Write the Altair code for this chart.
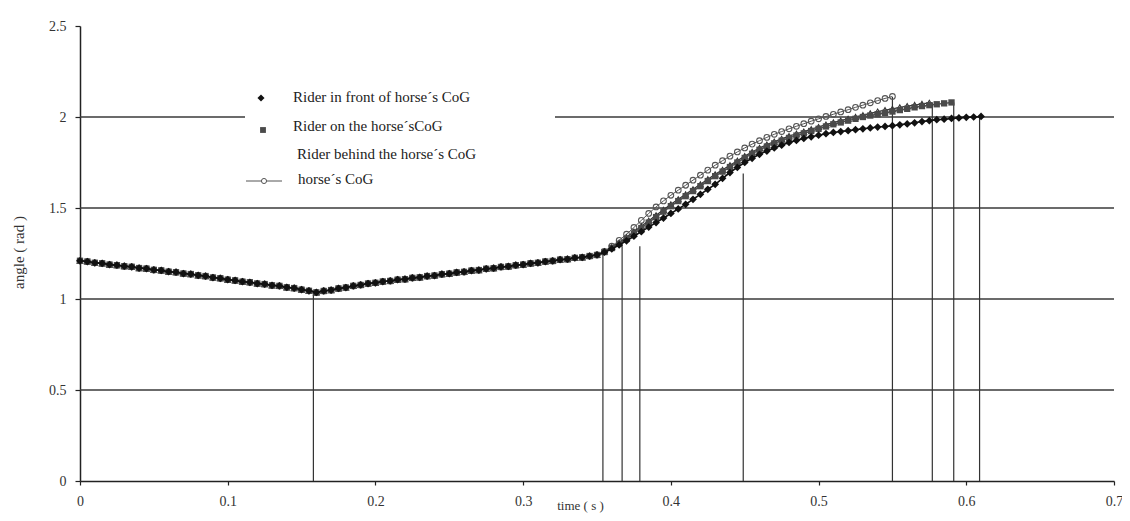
import altair as alt
import pandas as pd

# ---------------- data ----------------
T_STEP = 0.005
# approach phase, identical for all four conditions, t = 0 .. 0.35 s
common_v = [1.210, 1.206, 1.199, 1.196, 1.189, 1.186, 1.180, 1.177, 1.170, 1.167,
            1.160, 1.157, 1.150, 1.147, 1.140, 1.137, 1.130, 1.126, 1.118, 1.114,
            1.106, 1.102, 1.095, 1.092, 1.085, 1.082, 1.075, 1.072, 1.064, 1.060,
            1.051, 1.045, 1.036, 1.044, 1.049, 1.058, 1.063, 1.072, 1.077, 1.085,
            1.089, 1.096, 1.099, 1.106, 1.109, 1.116, 1.119, 1.126, 1.129, 1.136,
            1.139, 1.146, 1.149, 1.156, 1.159, 1.166, 1.169, 1.176, 1.179, 1.186,
            1.189, 1.196, 1.199, 1.206, 1.209, 1.216, 1.219, 1.226, 1.229, 1.236,
            1.242]

RISE_START = 0.355
diamond_rise = [1.257, 1.275, 1.297, 1.32, 1.345, 1.37, 1.395, 1.42, 1.445, 1.47,
                1.495, 1.52, 1.548, 1.575, 1.603, 1.63, 1.663, 1.695, 1.723, 1.75,
                1.773, 1.795, 1.813, 1.83, 1.845, 1.86, 1.871, 1.882, 1.891, 1.90,
                1.908, 1.915, 1.92, 1.925, 1.93, 1.935, 1.94, 1.945, 1.948, 1.952,
                1.957, 1.962, 1.968, 1.975, 1.98, 1.985, 1.988, 1.992, 1.995, 1.998,
                2.0, 2.003]
square_rise = [1.258, 1.28, 1.304, 1.33, 1.36, 1.39, 1.42, 1.45, 1.48, 1.51,
               1.538, 1.565, 1.593, 1.62, 1.648, 1.675, 1.70, 1.725, 1.75, 1.775,
               1.798, 1.82, 1.838, 1.855, 1.87, 1.885, 1.898, 1.91, 1.923, 1.935,
               1.948, 1.96, 1.97, 1.98, 1.99, 2.0, 2.008, 2.015, 2.023, 2.03,
               2.038, 2.045, 2.053, 2.06, 2.065, 2.07, 2.075, 2.08]
triangle_rise = [1.262, 1.285, 1.31, 1.34, 1.37, 1.40, 1.43, 1.46, 1.49, 1.52,
                 1.548, 1.575, 1.603, 1.63, 1.658, 1.685, 1.71, 1.735, 1.76, 1.785,
                 1.808, 1.83, 1.848, 1.865, 1.88, 1.895, 1.908, 1.92, 1.933, 1.945,
                 1.958, 1.97, 1.98, 1.99, 2.0, 2.01, 2.02, 2.03, 2.038, 2.045,
                 2.053, 2.06, 2.066, 2.072, 2.078]
circle_rise = [1.262, 1.29, 1.322, 1.356, 1.393, 1.432, 1.47, 1.506, 1.539, 1.57,
               1.598, 1.625, 1.653, 1.68, 1.708, 1.735, 1.76, 1.785, 1.808, 1.83,
               1.851, 1.87, 1.888, 1.905, 1.92, 1.935, 1.949, 1.963, 1.977, 1.99,
               2.003, 2.015, 2.028, 2.04, 2.053, 2.065, 2.078, 2.09, 2.102, 2.113]

series_names = ["Rider in front of horse´s CoG",
                "Rider on the horse´sCoG",
                "Rider behind the horse´s CoG",
                "horse´s CoG"]
series_rise = [diamond_rise, square_rise, triangle_rise, circle_rise]

# vertical event lines: time and the angle they reach
drop_t = [0.158, 0.354, 0.367, 0.379, 0.449, 0.550, 0.577, 0.5915, 0.609]
drop_top = [1.035, 1.27, 1.29, 1.29, 1.69, 2.11, 2.08, 2.08, 2.00]

grid_levels = [0.5, 1.0, 1.5, 2.0]
x_ticks = [0, 0.1, 0.2, 0.3, 0.4, 0.5, 0.6, 0.7]
y_ticks = [0, 0.5, 1, 1.5, 2, 2.5]

# ---------------- tables ----------------
rows = []
for name, rise in zip(series_names, series_rise):
    for i, v in enumerate(common_v):
        rows.append({"series": name, "t": round(i * T_STEP, 4), "v": v})
    for i, v in enumerate(rise):
        rows.append({"series": name, "t": round(RISE_START + i * T_STEP, 4), "v": v})
df = pd.DataFrame(rows)

df_grid = pd.DataFrame({"v": grid_levels, "t0": [0.0] * len(grid_levels),
                        "t1": [0.7] * len(grid_levels)})
df_drop = pd.DataFrame({"t": drop_t, "v0": [0.0] * len(drop_t), "v1": drop_top})
one = pd.DataFrame({"k": [0]})

SERIF = "Liberation Serif"
XS = alt.Scale(domain=[0, 0.7], nice=False, zero=False)
YS = alt.Scale(domain=[0, 2.5], nice=False, zero=False)

x_axis = alt.Axis(values=x_ticks, labelExpr="datum.value", title="time ( s )",
                  titleX=500, titleY=24, titleBaseline="middle", titleAlign="center",
                  titleFontSize=13, tickSize=4, labelPadding=9, labelFlush=False)
y_axis = alt.Axis(values=y_ticks, labelExpr="datum.value", title="angle ( rad )",
                  titleX=-62, titleY=226, titleBaseline="middle", titleAlign="center",
                  titleAngle=270, titleFontSize=15, tickSize=5, labelPadding=9)

grid = alt.Chart(df_grid).mark_rule(color="#3a3a3a", strokeWidth=1.5).encode(
    x=alt.X("t0:Q", scale=XS, axis=x_axis),
    x2="t1:Q",
    y=alt.Y("v:Q", scale=YS, axis=y_axis),
)

drops = alt.Chart(df_drop).mark_rule(color="#333", strokeWidth=1.2).encode(
    x=alt.X("t:Q", scale=XS),
    y=alt.Y("v0:Q", scale=YS),
    y2="v1:Q",
)

legend_bg = alt.Chart(one).mark_rect(color="white").encode(
    x=alt.value(165), x2=alt.value(475), y=alt.value(60), y2=alt.value(168)
)

styles = {
    series_names[0]: dict(color="#111", shape="diamond", filled=True, size=60, lw=1.6),
    series_names[1]: dict(color="#4a4a4a", shape="square", filled=True, size=40, lw=1.4),
    series_names[2]: dict(color="#333", shape="triangle-up", filled=False, size=34, lw=1.2),
    series_names[3]: dict(color="#555", shape="circle", filled=False, size=32, lw=1.0),
}

series_layers = []
for name in [series_names[3], series_names[2], series_names[1], series_names[0]]:
    st = styles[name]
    base = alt.Chart(df).transform_filter(alt.datum.series == name).encode(
        x=alt.X("t:Q", scale=XS), y=alt.Y("v:Q", scale=YS)
    )
    series_layers.append(base.mark_line(color=st["color"], strokeWidth=st["lw"]))
    series_layers.append(base.mark_point(color=st["color"], shape=st["shape"],
                                         filled=st["filled"], size=st["size"],
                                         strokeWidth=1.1, opacity=1))

# ---------------- legend (drawn inside the plot) ----------------
def ltext(label, x, y):
    return alt.Chart(one).mark_text(align="left", baseline="middle", font=SERIF,
                                    fontSize=15, color="#222").encode(
        x=alt.value(x), y=alt.value(y), text=alt.value(label))

legend = [
    alt.Chart(one).mark_point(shape="diamond", filled=True, color="#111", size=50,
                              opacity=1).encode(x=alt.value(181), y=alt.value(72)),
    ltext(series_names[0], 213, 71),
    alt.Chart(one).mark_point(shape="square", filled=True, color="#4a4a4a", size=34,
                              opacity=1).encode(x=alt.value(183), y=alt.value(104)),
    ltext(series_names[1], 213, 100),
    ltext(series_names[2], 217, 128),
    alt.Chart(one).mark_rule(color="#555", strokeWidth=1).encode(
        x=alt.value(166), x2=alt.value(202), y=alt.value(155)),
    alt.Chart(one).mark_point(shape="circle", filled=True, fill="white", stroke="#555",
                              size=26, strokeWidth=1, opacity=1).encode(
        x=alt.value(184), y=alt.value(155)),
    ltext(series_names[3], 218, 153),
]

chart = alt.layer(grid, drops, legend_bg, *series_layers, *legend).properties(
    width=1034, height=455,
    padding={"left": 72, "top": 18, "right": 8, "bottom": 32},
    autosize=alt.AutoSizeParams(type="none"),
    background="white",
).configure_view(stroke=None).configure_axis(
    grid=False,
    domainColor="#222", domainWidth=1.5,
    tickColor="#222", tickWidth=1.2,
    labelFont=SERIF, labelFontSize=14, labelColor="#333",
    titleFont=SERIF, titleColor="#333", titleFontWeight="normal",
)

chart.save("out.html", embed_options={"renderer": "svg", "actions": False})
